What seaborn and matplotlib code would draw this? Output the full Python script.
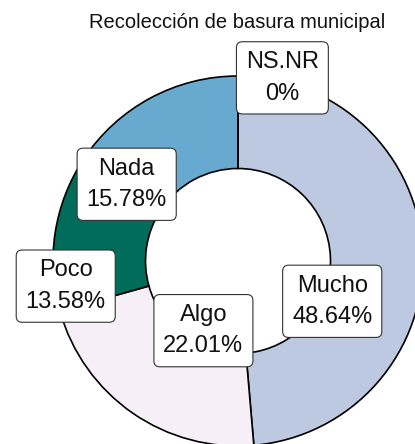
import numpy as np
import seaborn as sns
import matplotlib
matplotlib.use("Agg")
import matplotlib.pyplot as plt

# Data
categories = ["Mucho", "Algo", "Poco", "Nada", "NS.NR"]
percentages = [48.64, 22.01, 13.58, 15.78, 0.0]
pct_labels = ["48.64%", "22.01%", "13.58%", "15.78%", "0%"]
colors = ["#bdc9e1", "#f6eff7", "#016c59", "#67a9cf", "#1c9099"]

# Label nudges (repel-like offsets, in pie radius units)
nudge_x = [-0.24, 0.24, -0.19, -0.245, 0.24]
nudge_y = [-0.25, 0.24, -0.25, -0.245, 0.24]

sns.set_theme(style="white")
plt.rcParams['font.family'] = ['Liberation Sans', 'DejaVu Sans']

fig = plt.figure(figsize=(4.15, 4.44), dpi=100)
# donut is bigger than the figure and cut at the right and bottom
ax = fig.add_axes([53 / 415, -2 / 444, 370 / 415, 370 / 444])

wedges, _ = ax.pie(percentages, colors=colors, startangle=90, counterclock=False,
                   radius=1, wedgeprops=dict(width=0.5, edgecolor="black", linewidth=1.2))
ax.set_xlim(-1, 1)
ax.set_ylim(-1, 1)
ax.set_aspect("auto")
ax.axis("off")

# Labels at the middle of each ring segment, then nudged
for w, cat, lab, nx, ny in zip(wedges, categories, pct_labels, nudge_x, nudge_y):
    mid = np.deg2rad((w.theta1 + w.theta2) / 2)
    x = 0.75 * np.cos(mid) + nx
    y = 0.75 * np.sin(mid) + ny
    ax.text(x, y, f"{cat}\n{lab}", ha="center", va="center", fontsize=17,
            linespacing=1.55, color="#111111", clip_on=False,
            bbox=dict(boxstyle="round,pad=0.4,rounding_size=0.25", facecolor="white",
                      edgecolor="#333333", linewidth=0.8))

fig.text(237 / 415, 1 - 22 / 444, "Recolección de basura municipal",
         ha="center", va="center", fontsize=14.5, color="#111111")

fig.savefig("out.png", dpi=100)
